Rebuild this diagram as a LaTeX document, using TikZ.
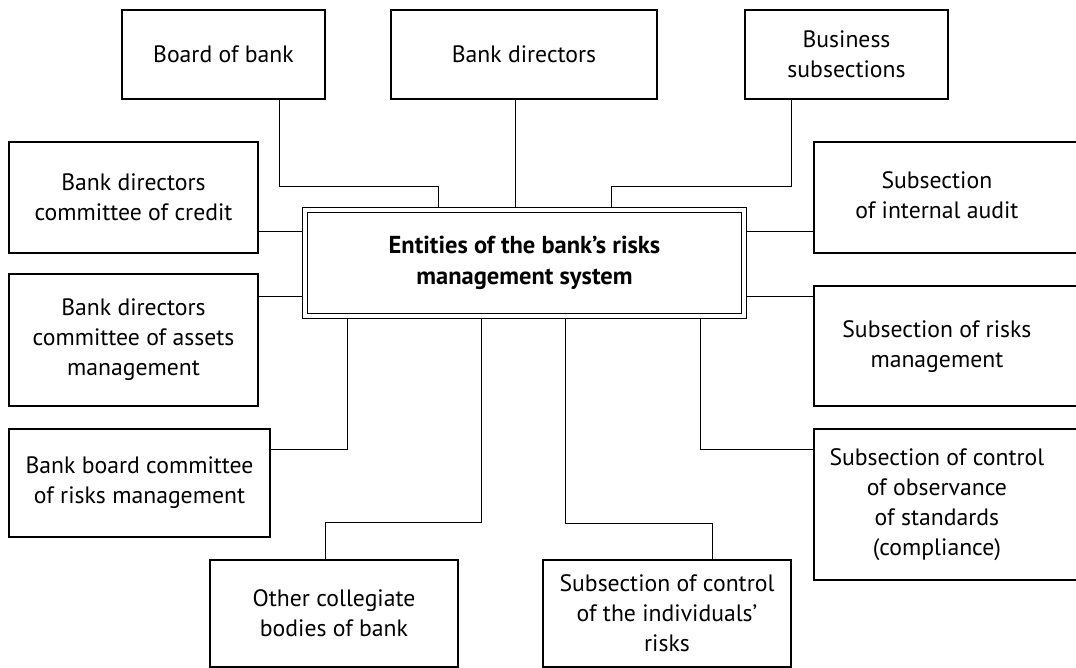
\documentclass[tikz,border=0pt]{standalone}
\usepackage{fontspec}
\setmainfont{PT Sans}
\newcommand{\cuttext}[1]{\begin{tabular}{@{}c@{}}#1\end{tabular}\hspace*{54pt}}

\begin{document}
\begin{tikzpicture}[
  x=1pt, y=-1pt,
  unit/.style={draw, line width=1.8pt, inner sep=2pt, align=center,
    font=\fontsize{23.7}{30}\selectfont},
  cutunit/.style={unit, anchor=west, minimum width=300pt},
  hub/.style={draw, double, line width=1.5pt, double distance=3.5pt,
    outer sep=3.25pt, align=center, font=\fontsize{24.5}{31}\selectfont\bfseries},
  link/.style={line width=0.9pt}
]
  \useasboundingbox (0,0) rectangle (1076,668);
  \clip (0,0) rectangle (1076,668);

  \node[hub, minimum width=439pt, minimum height=106pt] (hub) at (524.5,263)
    {Entities of the bank’s risks\\management system};

  \node[unit, minimum width=203pt, minimum height=89pt] (board) at (223.5,54.5) {Board of bank};
  \node[unit, minimum width=266pt, minimum height=89pt] (dirs) at (524,54.5) {Bank directors};
  \node[unit, minimum width=203pt, minimum height=89pt] (business) at (846.5,54.5) {Business\\subsections};

  \node[unit, minimum width=249pt, minimum height=111pt] (credit) at (133.5,197.5)
    {Bank directors\\committee of credit};
  \node[unit, minimum width=249pt, minimum height=132pt] (assets) at (133.5,340)
    {Bank directors\\committee of assets\\management};
  \node[unit, minimum width=261pt, minimum height=108pt] (riskcom) at (139.5,483)
    {Bank board committee\\of risks management};
  \node[unit, minimum width=248pt, minimum height=107pt] (other) at (334,613.5)
    {Other collegiate\\bodies of bank};
  \node[unit, minimum width=248pt, minimum height=107pt] (indiv) at (667,613.5)
    {Subsection of control\\of the individuals’\\risks};

  \node[cutunit, minimum height=111pt] (audit) at (813,197.5)
    {\cuttext{Subsection\\of internal audit}};
  \node[cutunit, minimum height=120pt] (riskunit) at (813,346)
    {\cuttext{Subsection of risks\\management}};
  \node[cutunit, minimum height=151pt] (compliance) at (813,504.5)
    {\cuttext{Subsection of control\\of observance\\of standards\\(compliance)}};

  \draw[link] ([xshift=55.5pt]board.south) -- ++(0,87) -| ([xshift=-86.5pt]hub.north);
  \draw[link] ([xshift=-9pt]dirs.south) -- ([xshift=-9.5pt]hub.north);
  \draw[link] ([xshift=-55.5pt]business.south) -- ++(0,87) -| ([xshift=86.5pt]hub.north);

  \draw[link] ([yshift=-33.5pt]credit.east) -- ([yshift=32pt]hub.west);
  \draw[link] ([yshift=44pt]assets.east) -- ([yshift=-33pt]hub.west);
  \draw[link] ([yshift=-33.5pt]audit.west) -- ([yshift=32pt]hub.east);
  \draw[link] ([yshift=50pt]riskunit.west) -- ([yshift=-33pt]hub.east);

  \draw[link] ([xshift=-177.5pt]hub.south) |- ([yshift=34pt]riskcom.east);
  \draw[link] ([xshift=-43.5pt]hub.south) -- ++(0,203) -| ([xshift=-9pt]other.north);
  \draw[link] ([xshift=40.5pt]hub.south) -- ++(0,204) -| ([xshift=45pt]indiv.north);
  \draw[link] ([xshift=175.5pt]hub.south) |- ([yshift=55.5pt]compliance.west);
\end{tikzpicture}
\end{document}
